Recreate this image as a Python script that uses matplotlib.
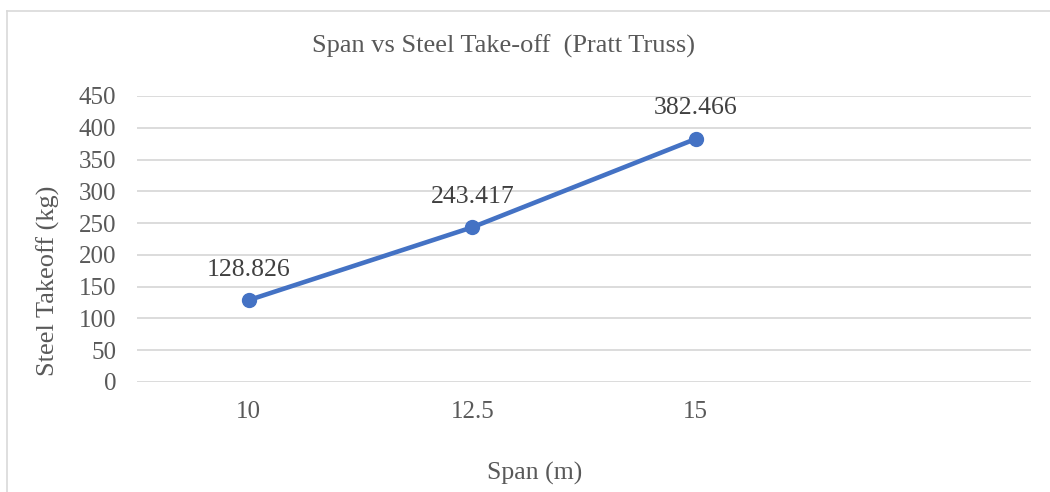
import matplotlib.pyplot as plt
from matplotlib.lines import Line2D

# Data
spans = ["10", "12.5", "15", ""]
steel = [128.826, 243.417, 382.466]
y_ticks = [0, 50, 100, 150, 200, 250, 300, 350, 400, 450]

GRAY_TXT = "#595959"
GRID = "#d9d9d9"
BLUE = "#4472C4"

plt.rcParams['font.family'] = ['Liberation Serif', 'DejaVu Serif']

fig = plt.figure(figsize=(10.5, 4.92), dpi=100)
ax = fig.add_axes([137 / 1050, (492 - 382) / 492, (1031 - 137) / 1050, (382 - 96) / 492])

x = list(range(len(steel)))
ax.plot(x, steel, color=BLUE, linewidth=3.3, marker='o', markersize=10,
        solid_capstyle='round', zorder=3)
for xi, v in zip(x, steel):
    ax.annotate(f"{v:g}", (xi, v), xytext=(0, 22), textcoords='offset points',
                ha='center', va='center', fontsize=18.5, color="#404040")

ax.set_xlim(-0.5, len(spans) - 0.5)
ax.set_ylim(0, 450)
ax.set_yticks(y_ticks)
ax.set_xticks(range(len(spans)))
ax.set_xticklabels(spans)
ax.yaxis.grid(True, color=GRID, linewidth=1.3)
ax.set_axisbelow(True)
for s in ax.spines.values():
    s.set_visible(False)
ax.tick_params(length=0, labelsize=18, labelcolor=GRAY_TXT)
ax.tick_params(axis='x', pad=14)
ax.tick_params(axis='y', pad=15)

ax.set_ylabel("Steel Takeoff (kg)", fontsize=19, color=GRAY_TXT, va='center')
ax.yaxis.set_label_coords((48 - 137) / 894, (382 - 281) / 286)
fig.text(535 / 1050, 1 - 473 / 492, "Span (m)", ha='center', va='center',
         fontsize=18.5, color=GRAY_TXT)
fig.text(503 / 1050, 1 - 46 / 492, "Span vs Steel Take-off  (Pratt Truss)", ha='center',
         va='center', fontsize=19, color=GRAY_TXT)

# chart border (top and left visible)
fig.add_artist(Line2D([7 / 1050, 7 / 1050], [0, 1 - 11 / 492], transform=fig.transFigure,
                      color=GRID, linewidth=1.2))
fig.add_artist(Line2D([7 / 1050, 1], [1 - 11 / 492, 1 - 11 / 492], transform=fig.transFigure,
                      color=GRID, linewidth=1.2))

fig.savefig("out.png", dpi=100)
